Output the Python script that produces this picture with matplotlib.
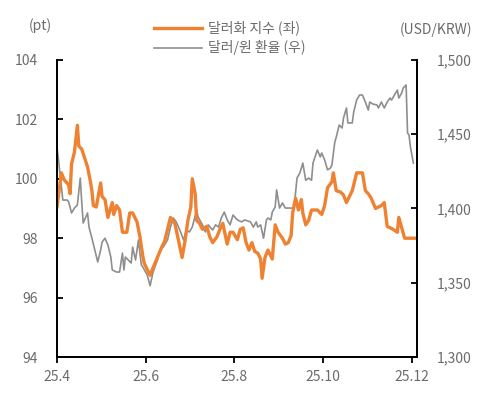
import matplotlib
matplotlib.use('Agg')
import matplotlib.pyplot as plt
import pandas as pd

plt.rcParams['font.family'] = ['Noto Sans CJK KR', 'DejaVu Sans']

# day offsets from 2025-04-01 and values
dxy_day = [0, 3, 5, 8, 9, 10, 11, 12, 14, 15, 17, 19, 21, 23, 24, 25, 27, 30, 31, 33,
           35, 38, 39, 41, 43, 45, 48, 50, 52, 55, 57, 59, 60, 64, 66, 69, 72, 74, 76, 78,
           81, 83, 86, 88, 90, 92, 93, 95, 96, 98, 100, 103, 105, 107, 110, 112, 114, 117, 119, 121,
           124, 126, 128, 130, 132, 134, 136, 138, 140, 141, 143, 145, 148, 150, 152, 155, 157, 159, 161, 162,
           164, 166, 168, 169, 171, 173, 175, 179, 182, 184, 186, 189, 190, 192, 195, 197, 199, 201, 203, 206,
           207, 210, 212, 214, 216, 219, 221, 223, 225, 227, 229, 231, 234, 235, 237, 239, 241, 244, 246]
dxy = [99.05, 100.2, 99.96, 99.8, 99.5, 100.5, 100.7, 100.9, 101.8, 101.1, 101.0, 100.7, 100.4, 99.9, 99.6, 99.1, 99.05, 99.86, 99.4, 99.3,
       98.7, 99.2, 98.8, 99.1, 98.95, 98.2, 98.2, 98.85, 98.85, 98.55, 98.05, 97.4, 97.15, 96.75, 97.0, 97.35, 97.7, 97.9, 98.3, 98.7,
       98.5, 98.05, 97.35, 97.9, 98.6, 99.05, 100.0, 99.5, 98.6, 98.5, 98.3, 98.4, 98.05, 97.85, 98.05, 98.3, 98.5, 97.8, 98.2, 98.2,
       97.95, 98.3, 98.35, 97.85, 97.6, 97.85, 97.55, 97.5, 97.3, 96.65, 97.35, 97.6, 97.3, 98.45, 98.2, 98.0, 97.8, 97.85, 98.1, 98.85,
       99.35, 98.95, 99.3, 98.85, 98.45, 98.6, 98.95, 98.95, 98.8, 99.1, 99.7, 99.9, 100.2, 99.6, 99.55, 99.45, 99.2, 99.4, 99.6, 100.2,
       100.2, 100.2, 99.6, 99.5, 99.35, 99.0, 99.05, 99.1, 99.2, 98.4, 98.35, 98.3, 98.2, 98.7, 98.35, 98.0, 98.0, 98.0, 98.0]

krw_day = [0, 1, 3, 4, 7, 8, 10, 12, 14, 16, 17, 18, 21, 22, 24, 26, 28, 30, 31, 33,
           35, 37, 38, 41, 43, 45, 46, 47, 49, 51, 52, 54, 56, 57, 58, 59, 62, 64, 66, 69,
           71, 73, 76, 78, 80, 82, 85, 87, 89, 91, 93, 96, 97, 100, 102, 104, 107, 109, 111, 113,
           115, 117, 119, 121, 124, 127, 129, 133, 135, 137, 138, 140, 142, 144, 145, 147, 148, 150, 151, 153,
           155, 157, 160, 163, 165, 167, 169, 171, 173, 175, 176, 179, 181, 182, 184, 186, 188, 189, 191, 192,
           194, 196, 197, 199, 200, 203, 204, 206, 208, 210, 212, 214, 215, 217, 220, 221, 223, 225, 227, 229,
           230, 232, 234, 235, 237, 238, 240, 241, 242, 243, 244, 245]
krw = [1441, 1433, 1414.5, 1405.7, 1405.7, 1404.4, 1397, 1400.3, 1402.4, 1420.5, 1404.4, 1390.2, 1397, 1387.5, 1380, 1372, 1364, 1372, 1377.4, 1380,
       1375.4, 1367.3, 1358.6, 1357.2, 1357.2, 1370, 1358.6, 1367.3, 1365.3, 1363.3, 1374, 1365.3, 1378.8, 1370, 1362, 1360.6, 1355.2, 1348, 1357, 1365.3,
       1372, 1374, 1378.8, 1387.5, 1393.6, 1390.9, 1384.2, 1378.8, 1385.5, 1384.2, 1387.5, 1399, 1394.3, 1389, 1384.2, 1389, 1385.5, 1389, 1387.5, 1393.6,
       1397.6, 1392.3, 1389, 1395.6, 1392.3, 1391, 1392.3, 1391, 1387.5, 1391, 1387.5, 1389, 1380, 1392.3, 1393.6, 1392.3, 1397.6, 1401, 1412.5, 1400.3,
       1403.7, 1400.3, 1400.3, 1400.3, 1420.5, 1424, 1430.6, 1419, 1420.5, 1419, 1430.6, 1439.4, 1434.7, 1437.4, 1432.7, 1426, 1427.3, 1429.3, 1444.8, 1448.1,
       1456.2, 1454.2, 1461, 1467.7, 1457.6, 1457.6, 1465, 1473, 1476.4, 1476.4, 1471.7, 1466.3, 1471.7, 1470.4, 1469.7, 1467.7, 1471.7, 1467.7, 1471.7, 1474.4,
       1473, 1476.4, 1479.8, 1474.4, 1477.8, 1481.1, 1483.2, 1450.8, 1449.5, 1441.4, 1436, 1430.6]

x_ticks = ['2025-04-01', '2025-06-01', '2025-08-01', '2025-10-01', '2025-12-01']
x_labels = ['25.4', '25.6', '25.8', '25.10', '25.12']
left_ticks = [94, 96, 98, 100, 102, 104]
right_ticks = [1300, 1350, 1400, 1450, 1500]

start = pd.Timestamp('2025-04-01')
dxy_dates = start + pd.to_timedelta(dxy_day, unit='D')
krw_dates = start + pd.to_timedelta(krw_day, unit='D')

orange = '#EE8232'
gray = '#8E8E8E'
txt = '#6B6B6B'

fig = plt.figure(figsize=(4.88, 4.01), dpi=100)
ax = fig.add_axes([0.1168, 0.1097, 0.7377, 0.7407])
ax2 = ax.twinx()

l2, = ax2.plot(krw_dates, krw, color=gray, lw=1.2, label='달러/원 환율 (우)')
l1, = ax.plot(dxy_dates, dxy, color=orange, lw=2.4, label='달러화 지수 (좌)')
ax.set_zorder(ax2.get_zorder() + 1)
ax.patch.set_visible(False)

ax.set_xlim(start, pd.Timestamp('2025-12-04 12:00'))
ax.set_ylim(94, 104)
ax2.set_ylim(1300, 1500)
ax.set_xticks(pd.to_datetime(x_ticks))
ax.set_xticklabels(x_labels)
ax.set_yticks(left_ticks)
ax.set_yticklabels([str(t) for t in left_ticks])
ax2.set_yticks(right_ticks)
ax2.set_yticklabels([f'{t:,}' for t in right_ticks])

for a in (ax, ax2):
    a.spines['top'].set_visible(False)
    for s in ('left', 'right', 'bottom'):
        a.spines[s].set_color('black')
        a.spines[s].set_linewidth(1.3)
ax.tick_params(axis='y', direction='in', length=4, width=1.3, colors='black',
               labelcolor=txt, labelsize=10, pad=14)
ax2.tick_params(axis='y', direction='in', length=4, width=1.3, colors='black',
                labelcolor=txt, labelsize=10, pad=14)
ax.tick_params(axis='x', direction='out', length=4, width=1.3, colors='black',
               labelcolor=txt, labelsize=10, pad=5)

fig.text(0.082, 0.935, '(pt)', color=txt, fontsize=10, ha='center', va='center')
fig.text(0.968, 0.925, '(USD/KRW)', color=txt, fontsize=10, ha='right', va='center')

fig.legend([l1, l2], [l1.get_label(), l2.get_label()], loc='center',
           bbox_to_anchor=(0.47, 0.905), frameon=False, fontsize=10,
           handlelength=3.5, handletextpad=0.4, labelspacing=0.35,
           labelcolor=txt)

fig.savefig('out.png', dpi=100)
